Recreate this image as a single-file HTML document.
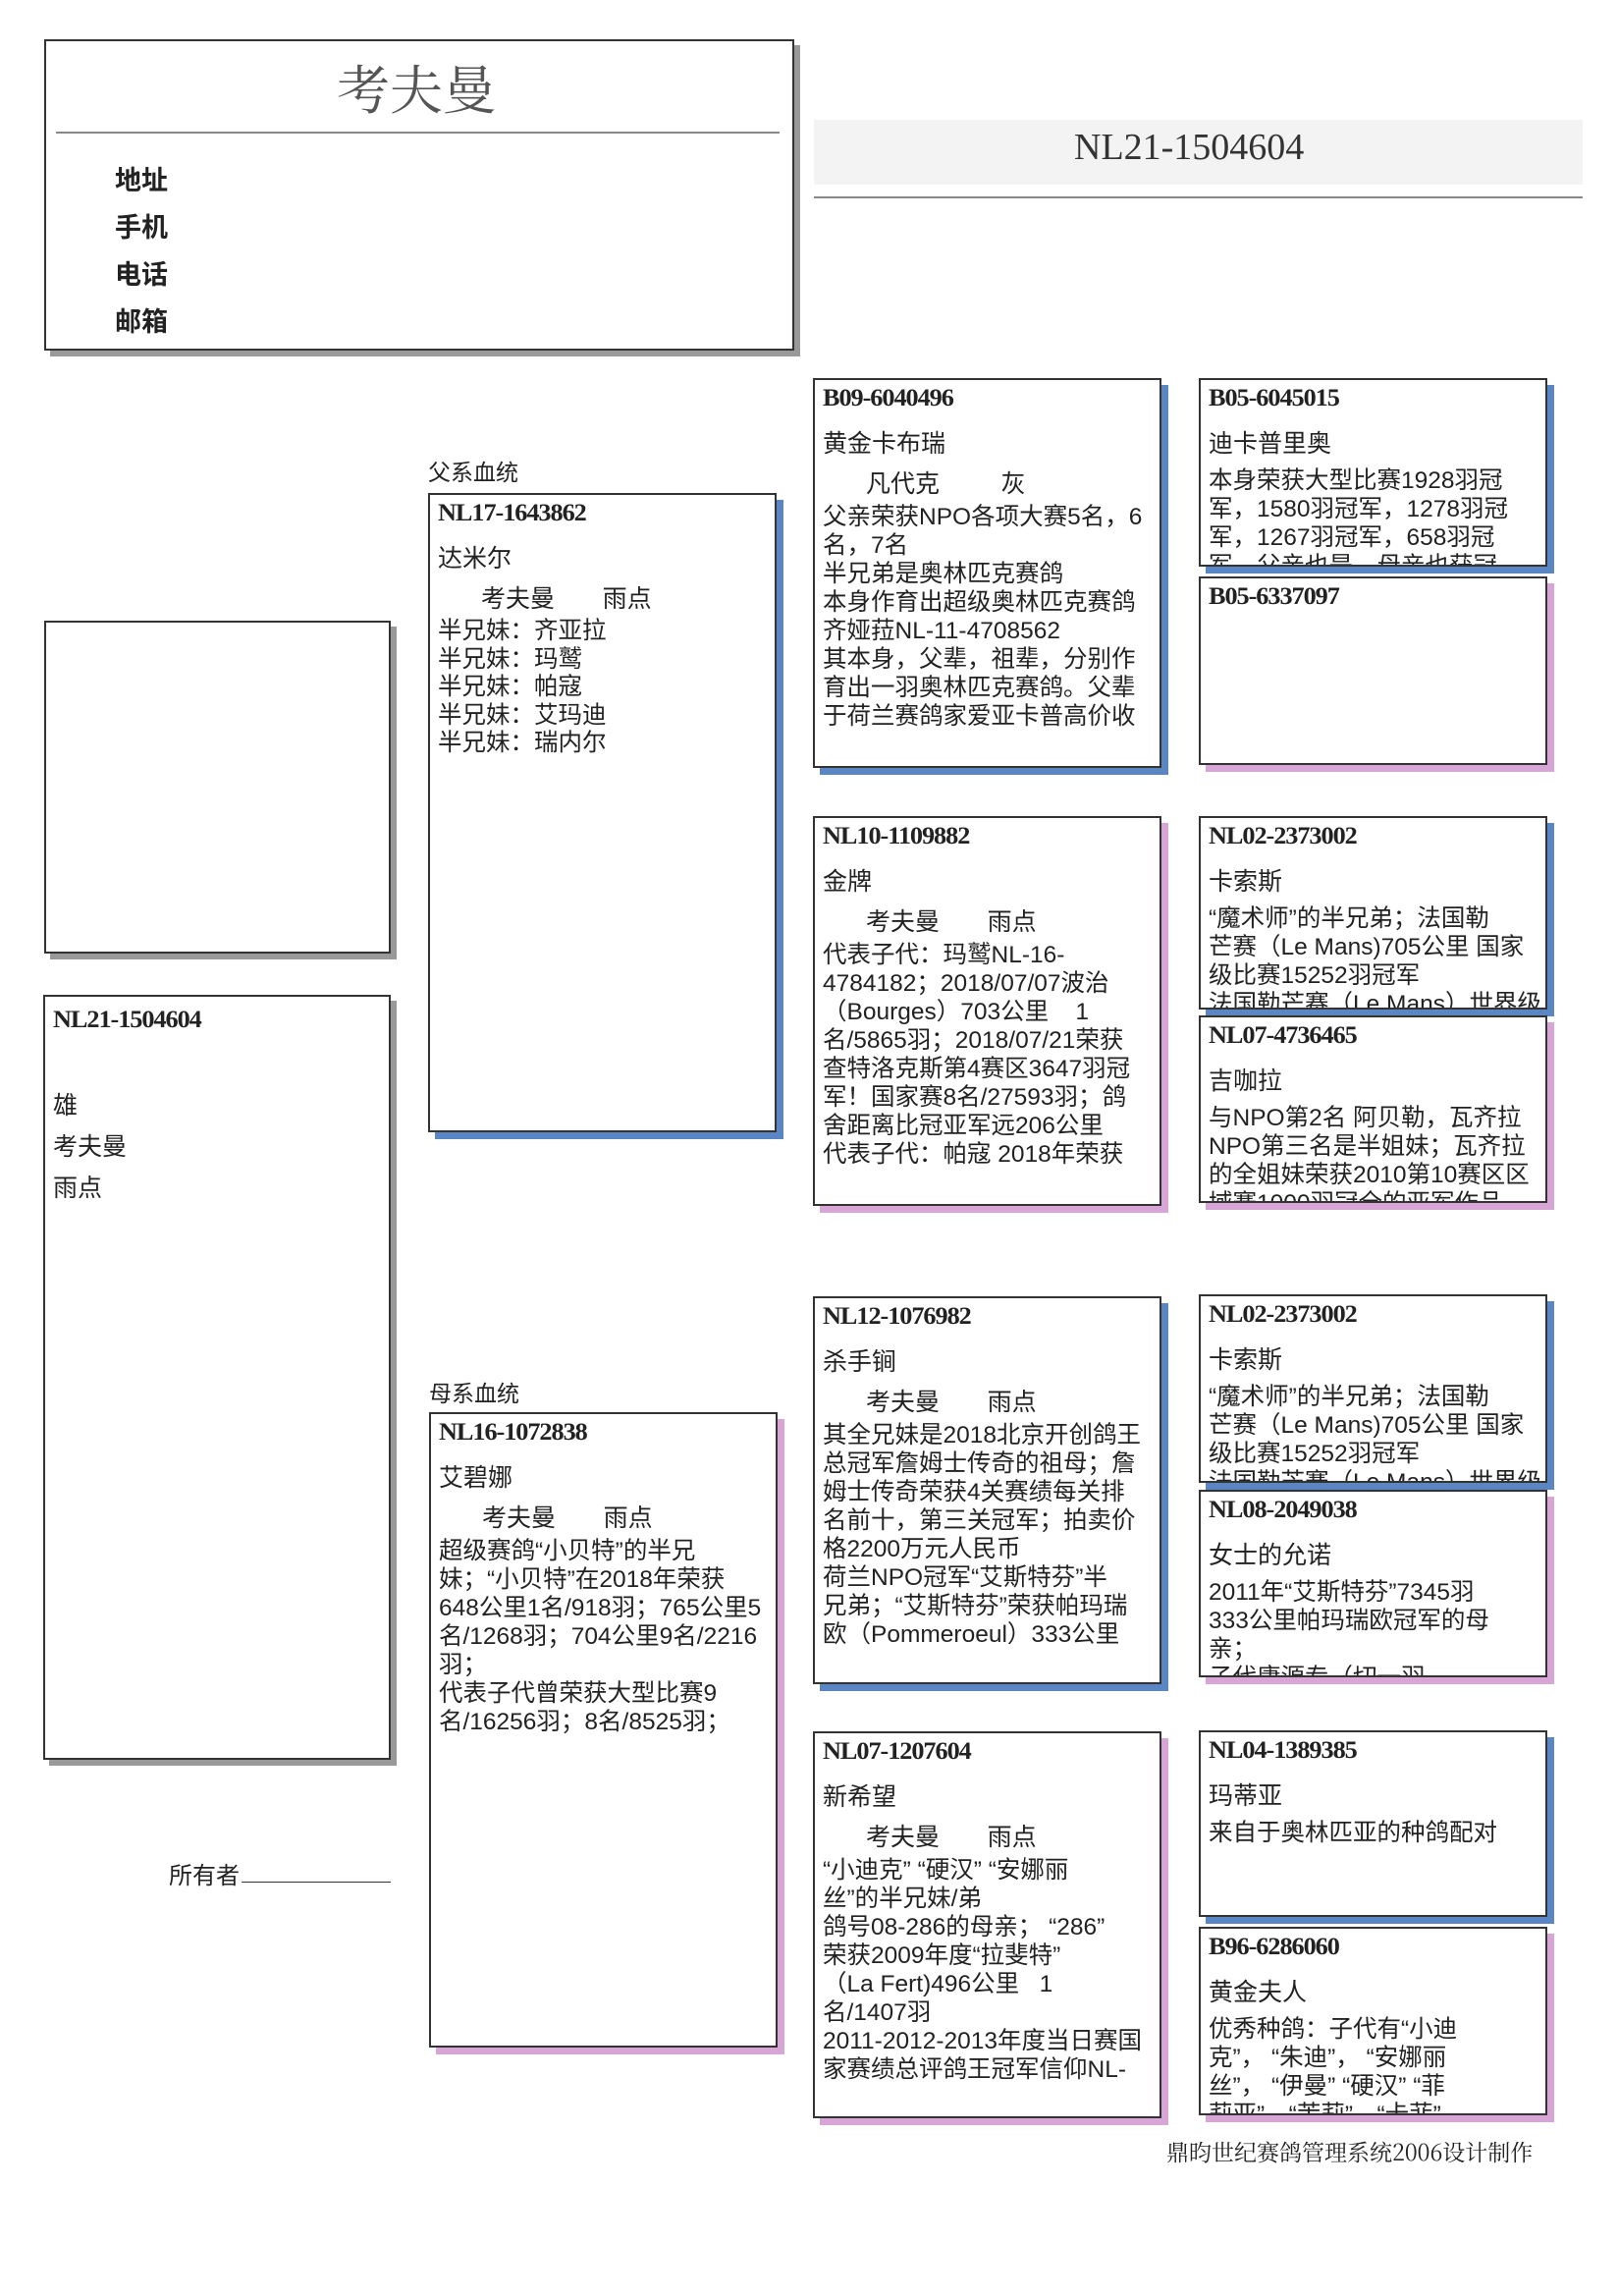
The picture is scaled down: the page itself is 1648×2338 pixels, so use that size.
<!DOCTYPE html>
<html><head><meta charset="utf-8">
<style>
*{margin:0;padding:0;box-sizing:border-box}
body{width:1648px;height:2338px;background:#fff;position:relative;overflow:hidden;font-family:"Liberation Sans","Noto Sans CJK SC",sans-serif;color:#222}
.a{position:absolute;white-space:nowrap}
.box{position:absolute;border:2px solid #333;background:#fff;overflow:hidden}
.sb{box-shadow:7px 7px 0 #5a86c4}
.sp{box-shadow:7px 7px 0 #d7a6d6}
.sg{box-shadow:6px 6px 0 #999}
.id{position:absolute;left:8px;font-family:"Liberation Serif","Noto Serif CJK SC",serif;font-weight:bold;font-size:25px;letter-spacing:-1px;transform:scaleX(1.05);transform-origin:left}
.nm{position:absolute;left:8px;font-size:25px}
.ow{position:absolute;left:52px;font-size:25px;word-spacing:0}
.tx{position:absolute;left:8px;font-size:24.5px;line-height:29px;white-space:nowrap}
</style></head><body>

<!-- header -->
<div class="box sg" style="left:45px;top:40px;width:764px;height:317px;"></div>
<div class="a" style="left:343px;top:50px;font-size:54px;color:#555;font-family:'Noto Serif CJK SC',serif">考夫曼</div>
<div class="a" style="left:57px;top:134px;width:737px;height:2px;background:#888"></div>
<div class="a" style="left:117px;top:160px;font-size:27px;font-weight:bold;line-height:48px">地址<br>手机<br>电话<br>邮箱</div>

<div class="a" style="left:829px;top:122px;width:783px;height:66px;background:#f3f3f3"></div>
<div class="a" style="left:1094px;top:128px;font-size:38px;font-family:'Liberation Serif',serif;color:#333">NL21-1504604</div>
<div class="a" style="left:829px;top:200px;width:783px;height:2px;background:#888"></div>

<!-- photo & subject -->
<div class="box sg" style="left:45px;top:632px;width:353px;height:339px"></div>
<div class="box sg" style="left:44px;top:1013px;width:354px;height:779px">
 <div class="id" style="top:10px">NL21-1504604</div>
 <div class="tx" style="top:90px;font-size:25px;line-height:42px">雄<br>考夫曼<br>雨点</div>
</div>
<div class="a" style="left:172px;top:1890px;font-size:24px">所有者</div>
<div class="a" style="left:246px;top:1916px;width:152px;height:1px;background:#333"></div>

<!-- father -->
<div class="a" style="left:436px;top:462px;font-size:23px">父系血统</div>
<div class="box sb" style="left:436px;top:502px;width:355px;height:651px">
 <div class="id" style="top:5px">NL17-1643862</div>
 <div class="nm" style="top:45px">达米尔</div>
 <div class="ow" style="top:86px">考夫曼&nbsp;&nbsp;&nbsp;&nbsp;&nbsp;&nbsp;&nbsp;雨点</div>
 <div class="tx" style="top:125px;line-height:28.5px">半兄妹：齐亚拉<br>半兄妹：玛鹫<br>半兄妹：帕寇<br>半兄妹：艾玛迪<br>半兄妹：瑞内尔</div>
</div>

<!-- mother -->
<div class="a" style="left:437px;top:1400px;font-size:23px">母系血统</div>
<div class="box sp" style="left:437px;top:1438px;width:355px;height:647px">
 <div class="id" style="top:5px">NL16-1072838</div>
 <div class="nm" style="top:45px">艾碧娜</div>
 <div class="ow" style="top:86px">考夫曼&nbsp;&nbsp;&nbsp;&nbsp;&nbsp;&nbsp;&nbsp;雨点</div>
 <div class="tx" style="top:125px">超级赛鸽“小贝特”的半兄<br>妹；“小贝特”在2018年荣获<br>648公里1名/918羽；765公里5<br>名/1268羽；704公里9名/2216<br>羽；<br>代表子代曾荣获大型比赛9<br>名/16256羽；8名/8525羽；</div>
</div>

<!-- gen3 -->
<div class="box sb" style="left:828px;top:385px;width:355px;height:397px">
 <div class="id" style="top:5px">B09-6040496</div>
 <div class="nm" style="top:45px">黄金卡布瑞</div>
 <div class="ow" style="top:86px">凡代克&nbsp;&nbsp;&nbsp;&nbsp;&nbsp;&nbsp;&nbsp;&nbsp;&nbsp;灰</div>
 <div class="tx" style="top:125px">父亲荣获NPO各项大赛5名，6<br>名，7名<br>半兄弟是奥林匹克赛鸽<br>本身作育出超级奥林匹克赛鸽<br>齐娅菈NL-11-4708562<br>其本身，父辈，祖辈，分别作<br>育出一羽奥林匹克赛鸽。父辈<br>于荷兰赛鸽家爱亚卡普高价收</div>
</div>
<div class="box sp" style="left:828px;top:831px;width:355px;height:397px">
 <div class="id" style="top:5px">NL10-1109882</div>
 <div class="nm" style="top:45px">金牌</div>
 <div class="ow" style="top:86px">考夫曼&nbsp;&nbsp;&nbsp;&nbsp;&nbsp;&nbsp;&nbsp;雨点</div>
 <div class="tx" style="top:125px">代表子代：玛鹫NL-16-<br>4784182；2018/07/07波治<br>（Bourges）703公里&nbsp;&nbsp;&nbsp;&nbsp;1<br>名/5865羽；2018/07/21荣获<br>查特洛克斯第4赛区3647羽冠<br>军！国家赛8名/27593羽；鸽<br>舍距离比冠亚军远206公里<br>代表子代：帕寇 2018年荣获</div>
</div>
<div class="box sb" style="left:828px;top:1320px;width:355px;height:395px">
 <div class="id" style="top:5px">NL12-1076982</div>
 <div class="nm" style="top:45px">杀手锏</div>
 <div class="ow" style="top:86px">考夫曼&nbsp;&nbsp;&nbsp;&nbsp;&nbsp;&nbsp;&nbsp;雨点</div>
 <div class="tx" style="top:125px">其全兄妹是2018北京开创鸽王<br>总冠军詹姆士传奇的祖母；詹<br>姆士传奇荣获4关赛绩每关排<br>名前十，第三关冠军；拍卖价<br>格2200万元人民币<br>荷兰NPO冠军“艾斯特芬”半<br>兄弟；“艾斯特芬”荣获帕玛瑞<br>欧（Pommeroeul）333公里</div>
</div>
<div class="box sp" style="left:828px;top:1763px;width:355px;height:394px">
 <div class="id" style="top:5px">NL07-1207604</div>
 <div class="nm" style="top:45px">新希望</div>
 <div class="ow" style="top:86px">考夫曼&nbsp;&nbsp;&nbsp;&nbsp;&nbsp;&nbsp;&nbsp;雨点</div>
 <div class="tx" style="top:125px">“小迪克” “硬汉” “安娜丽<br>丝”的半兄妹/弟<br>鸽号08-286的母亲； “286”<br>荣获2009年度“拉斐特”<br>（La Fert)496公里&nbsp;&nbsp;&nbsp;1<br>名/1407羽<br>2011-2012-2013年度当日赛国<br>家赛绩总评鸽王冠军信仰NL-</div>
</div>

<!-- gen4 -->
<div class="box sb" style="left:1221px;top:385px;width:355px;height:192px">
 <div class="id" style="top:5px">B05-6045015</div>
 <div class="nm" style="top:45px">迪卡普里奥</div>
 <div class="tx" style="top:88px">本身荣获大型比赛1928羽冠<br>军，1580羽冠军，1278羽冠<br>军，1267羽冠军，658羽冠<br>军，父亲也是，母亲也获冠</div>
</div>
<div class="box sp" style="left:1221px;top:587px;width:355px;height:192px">
 <div class="id" style="top:5px">B05-6337097</div>
</div>
<div class="box sb" style="left:1221px;top:831px;width:355px;height:197px">
 <div class="id" style="top:5px">NL02-2373002</div>
 <div class="nm" style="top:45px">卡索斯</div>
 <div class="tx" style="top:88px">“魔术师”的半兄弟；法国勒<br>芒赛（Le Mans)705公里 国家<br>级比赛15252羽冠军<br>法国勒芒赛（Le Mans）世界级</div>
</div>
<div class="box sp" style="left:1221px;top:1034px;width:355px;height:191px">
 <div class="id" style="top:5px">NL07-4736465</div>
 <div class="nm" style="top:45px">吉咖拉</div>
 <div class="tx" style="top:88px">与NPO第2名 阿贝勒，瓦齐拉<br>NPO第三名是半姐妹；瓦齐拉<br>的全姐妹荣获2010第10赛区区<br>域赛1000羽冠全的亚军作品</div>
</div>
<div class="box sb" style="left:1221px;top:1318px;width:355px;height:192px">
 <div class="id" style="top:5px">NL02-2373002</div>
 <div class="nm" style="top:45px">卡索斯</div>
 <div class="tx" style="top:88px">“魔术师”的半兄弟；法国勒<br>芒赛（Le Mans)705公里 国家<br>级比赛15252羽冠军<br>法国勒芒赛（Le Mans）世界级</div>
</div>
<div class="box sp" style="left:1221px;top:1517px;width:355px;height:191px">
 <div class="id" style="top:5px">NL08-2049038</div>
 <div class="nm" style="top:45px">女士的允诺</div>
 <div class="tx" style="top:88px">2011年“艾斯特芬”7345羽<br>333公里帕玛瑞欧冠军的母<br>亲；<br>子代庸源专（切一羽</div>
</div>
<div class="box sb" style="left:1221px;top:1762px;width:355px;height:190px">
 <div class="id" style="top:5px">NL04-1389385</div>
 <div class="nm" style="top:45px">玛蒂亚</div>
 <div class="tx" style="top:88px">来自于奥林匹亚的种鸽配对</div>
</div>
<div class="box sp" style="left:1221px;top:1962px;width:355px;height:192px">
 <div class="id" style="top:5px">B96-6286060</div>
 <div class="nm" style="top:45px">黄金夫人</div>
 <div class="tx" style="top:88px">优秀种鸽：子代有“小迪<br>克”， “朱迪”， “安娜丽<br>丝”， “伊曼” “硬汉” “菲<br>莉亚”，“茉莉”，“卡菲”</div>
</div>

<div class="a" style="left:1188px;top:2174px;font-size:23px;font-family:'Noto Serif CJK SC',serif">鼎昀世纪赛鸽管理系统2006设计制作</div>
</body></html>
